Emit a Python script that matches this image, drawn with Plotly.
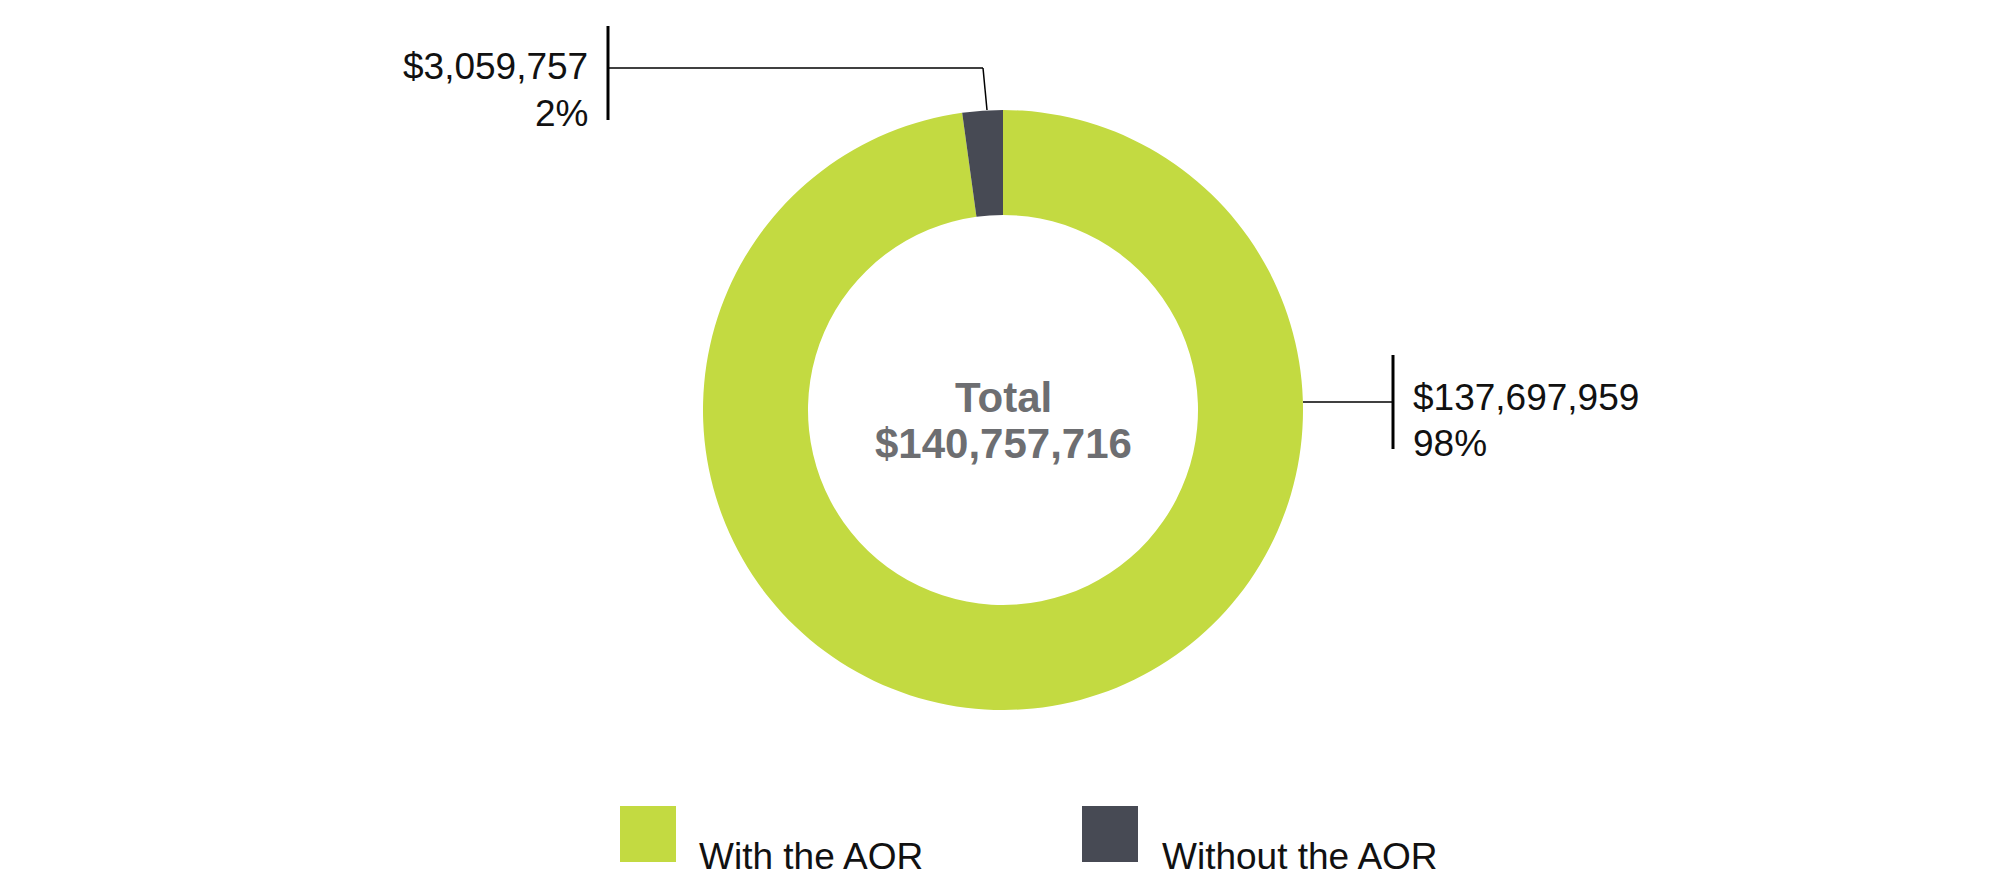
import plotly.graph_objects as go

categories = ["With the AOR", "Without the AOR"]
values = [137697959, 3059757]
value_labels = ["$137,697,959", "$3,059,757"]
pct_labels = ["98%", "2%"]
colors = ["#c3da41", "#474a54"]
total_label = "$140,757,716"

W, H = 2000, 885
def px(x): return x / W
def py(y): return 1 - y / H

fig = go.Figure(go.Pie(
    labels=categories, values=values, hole=0.65, sort=False,
    direction="clockwise", rotation=0,
    marker=dict(colors=colors, line=dict(width=0)),
    textinfo="none", hoverinfo="label+value+percent",
    domain=dict(x=[px(695), px(1295)], y=[py(702), py(102)]),
    showlegend=False,
))

font = "Liberation Sans, Arial, sans-serif"
ann = []
shapes = []

def txt(x, y, s, anchor, size, color="#111", bold=False):
    ann.append(dict(x=px(x), y=py(y + 10), xref="paper", yref="paper", xanchor=anchor,
                    yanchor="middle", text=("<b>%s</b>" % s) if bold else s,
                    showarrow=False, font=dict(family=font, size=size, color=color)))

# center
txt(995, 380, "Total", "center", 42, "#6d6e71", True)
txt(995, 425, total_label, "center", 42, "#6d6e71", True)
# small slice label
txt(582, 48, value_labels[1], "right", 37)
txt(582, 96, pct_labels[1], "right", 37)
shapes += [
    dict(type="line", xref="paper", yref="paper", x0=px(600), x1=px(600), y0=py(18), y1=py(112), line=dict(color="#000", width=3)),
    dict(type="line", xref="paper", yref="paper", x0=px(600), x1=px(975), y0=py(60), y1=py(60), line=dict(color="#000", width=1.5)),
    dict(type="line", xref="paper", yref="paper", x0=px(975), x1=px(979), y0=py(60), y1=py(102), line=dict(color="#000", width=1.5)),
]
# big slice label
txt(1403, 380, value_labels[0], "left", 37)
txt(1403, 425, pct_labels[0], "left", 37)
shapes += [
    dict(type="line", xref="paper", yref="paper", x0=px(1385), x1=px(1385), y0=py(347), y1=py(441), line=dict(color="#000", width=3)),
    dict(type="line", xref="paper", yref="paper", x0=px(1295), x1=px(1385), y0=py(394), y1=py(394), line=dict(color="#000", width=1.5)),
]
# legend
for i, (x0, tx) in enumerate([(612, 689), (1074, 1152)]):
    shapes.append(dict(type="rect", xref="paper", yref="paper", x0=px(x0), x1=px(x0 + 56),
                       y0=py(854), y1=py(798), fillcolor=colors[i], line=dict(width=0)))
    txt(tx, 838, categories[i], "left", 37)

fig.update_layout(width=W, height=H, margin=dict(l=0, r=0, t=0, b=0),
                  paper_bgcolor="white", plot_bgcolor="white",
                  annotations=ann, shapes=shapes)
fig.write_html("out.html")
